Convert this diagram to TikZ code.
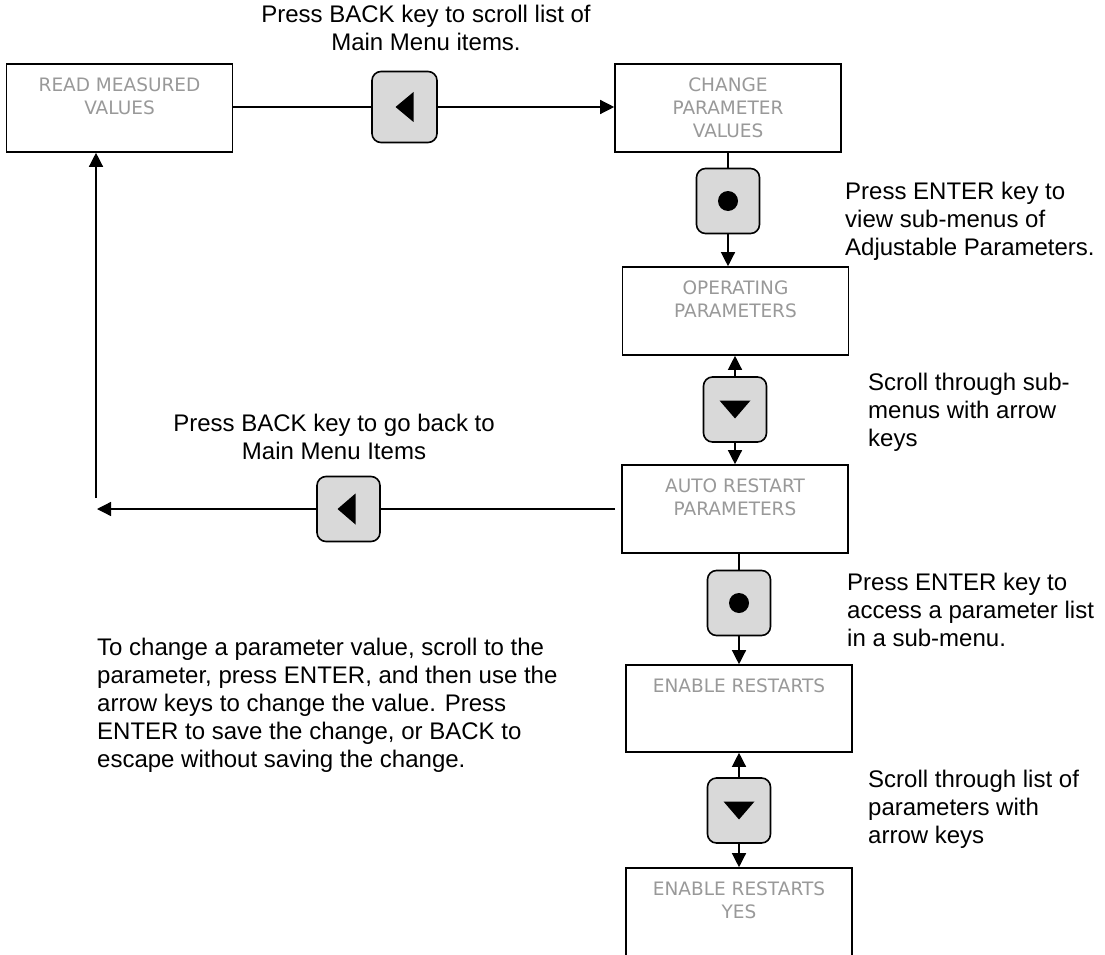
\documentclass[tikz,border=0pt]{standalone}
\usepackage{fontspec}
\setmainfont{Liberation Sans}
\newfontfamily\boxfont{DejaVu Sans}
\usetikzlibrary{arrows.meta,calc}
\definecolor{lblgray}{RGB}{153,153,153}
\definecolor{keygray}{RGB}{217,217,217}
\begin{document}
\begin{tikzpicture}[x=1pt,y=-1pt,
  menubox/.style={draw, line width=1.6pt, inner sep=0pt, minimum width=226pt, minimum height=88pt},
  menulabel/.style={font=\boxfont\fontsize{18.5}{23}\selectfont, text=lblgray, align=center, inner sep=0pt, anchor=north},
  keybox/.style={draw, line width=1.6pt, fill=keygray, rounded corners=9pt, minimum width=63pt, minimum height=65pt, inner sep=0pt},
  conn/.style={line width=1.3pt},
  arr/.style={conn, -{Triangle[length=14pt,width=14pt]}},
  note/.style={font=\fontsize{24}{28}\selectfont, inner sep=0pt},
]
\useasboundingbox[fill=white] (0,0) rectangle (1105,955);
\clip (0,0) rectangle (1105,955);

% menu boxes
\node[menubox] (rmv) at (119.5,108) {};
\node[menubox] (cpv) at (728,108) {};
\node[menubox] (op) at (735.5,311) {};
\node[menubox] (ar) at (735,509) {};
\node[menubox, minimum height=87pt] (er) at (739,708.5) {};
\node[menubox, minimum height=120pt] (ery) at (739,928) {};

% box labels
\node[menulabel] (rmvl) at ([yshift=-14.5pt]rmv.north) {READ MEASURED\\VALUES};
\node[menulabel] (cpvl) at ([yshift=-14.5pt]cpv.north) {CHANGE\\PARAMETER\\VALUES};
\node[menulabel] (opl) at ([yshift=-14.5pt]op.north) {OPERATING\\PARAMETERS};
\node[menulabel] (arl) at ([yshift=-14.5pt]ar.north) {AUTO RESTART\\PARAMETERS};
\node[menulabel] (erl) at ([yshift=-14.5pt]er.north) {ENABLE RESTARTS};
\node[menulabel] (eryl) at ([yshift=-14.5pt]ery.north) {ENABLE RESTARTS\\YES};

% keys
\node[keybox, minimum width=65pt, minimum height=71pt] (k1) at (404.5,107) {};
\node[keybox] (k2) at (728,201) {};
\node[keybox] (k3) at (735,409.5) {};
\node[keybox] (k4) at (739,603) {};
\node[keybox] (k5) at (739,810.5) {};
\node[keybox] (k6) at (348.5,509) {};

% key symbols
\fill ($(k1)+(-9,0)$) -- ($(k1)+(9,-15)$) -- ($(k1)+(9,15)$) -- cycle;
\fill ($(k6)+(-11,0)$) -- ($(k6)+(7,-15.5)$) -- ($(k6)+(7,15.5)$) -- cycle;
\fill (k2) circle[radius=10pt];
\fill (k4) circle[radius=10pt];
\fill ($(k3)+(-15.5,-9)$) -- ($(k3)+(15.5,-9)$) -- ($(k3)+(0,9)$) -- cycle;
\fill ($(k5)+(-15.5,-9)$) -- ($(k5)+(15.5,-9)$) -- ($(k5)+(0,9)$) -- cycle;

% connectors
\draw[conn] (rmv.east |- k1) -- (k1.west);
\draw[arr] (k1.east) -- (k1.east -| cpv.west);
\draw[conn] (cpv.south -| k2) -- (k2.north);
\draw[arr] (k2.south) -- (k2.south |- op.north);
\draw[arr] (k3.north) -- (k3.north |- op.south);
\draw[arr] (k3.south) -- (k3.south |- ar.north);
\draw[conn] (ar.south -| k4) -- (k4.north);
\draw[arr] (k4.south) -- (k4.south |- er.north);
\draw[arr] (k5.north) -- (k5.north |- er.south);
\draw[arr] (k5.south) -- (k5.south |- ery.north);
\draw[conn] ([xshift=-6pt]ar.west |- k6) -- (k6.east);
\coordinate (backtip) at (97,509);
\coordinate (upstart) at (96,498);
\draw[arr] (k6.west) -- (backtip);
\draw[arr] (upstart) -- (upstart |- rmv.south);

% annotations
\node[note, align=center, anchor=north] (t1) at (426,5) {Press BACK key to scroll list of\\Main Menu items.};
\node[note, align=left, anchor=north west] (t2) at (845,182) {Press ENTER key to\\view sub-menus of\\Adjustable Parameters.};
\node[note, align=left, anchor=north west] (t3) at (868,373) {Scroll through sub-\\menus with arrow\\keys};
\node[note, align=center, anchor=north] (t4) at (334,414) {Press BACK key to go back to\\Main Menu Items};
\node[note, align=left, anchor=north west] (t5) at (847,573) {Press ENTER key to\\access a parameter list\\in a sub-menu.};
\node[note, align=left, anchor=north west] (t6) at (868,770) {Scroll through list of\\parameters with\\arrow keys};
\node[note, align=left, anchor=north west] (t7) at (97,638) {To change a parameter value, scroll to the\\parameter, press ENTER, and then use the\\arrow keys to change the value. Press\\ENTER to save the change, or BACK to\\escape without saving the change.};
\end{tikzpicture}
\end{document}
